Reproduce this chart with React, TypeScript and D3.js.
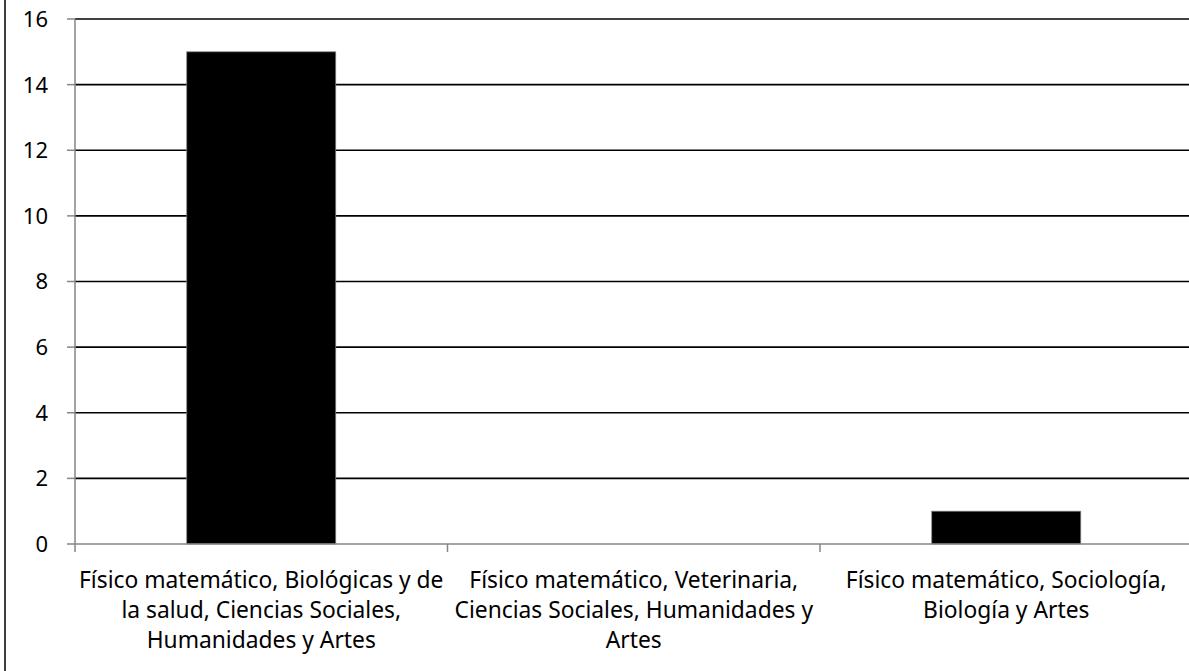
import * as d3 from 'd3';

const categories = [
  ['Físico matemático, Biológicas y de', 'la salud, Ciencias Sociales,', 'Humanidades y Artes'],
  ['Físico matemático, Veterinaria,', 'Ciencias Sociales, Humanidades y', 'Artes'],
  ['Físico matemático, Sociología,', 'Biología y Artes'],
];
const values = [15, 0, 1];
const yTicks = [0, 2, 4, 6, 8, 10, 12, 14, 16];

const W = 1189;
const H = 671;
const left = 75;
const right = 1192.5;
const top = 19;
const bottom = 544;
const font = '"Noto Sans", "Open Sans", sans-serif';

export default function App() {
  const keys = categories.map((_, i) => String(i));
  const x = d3.scaleBand().domain(keys).range([left, right]).paddingInner(0.6).paddingOuter(0.3);
  const band = d3.scaleBand().domain(keys).range([left, right]).padding(0);
  const y = d3.scaleLinear().domain([0, 16]).range([bottom, top]);

  return (
    <svg
      width={W}
      height={H}
      style={{ position: 'absolute', left: 0, top: 0, background: '#fff' }}
      fontFamily={font}
    >
      {/* chart border (only left side visible) */}
      <line x1={5} x2={5} y1={0} y2={H} stroke="#000" strokeWidth={1.5} />

      {/* gridlines */}
      {yTicks.filter((t) => t > 0).map((t) => (
        <line key={t} x1={left} x2={right} y1={y(t)} y2={y(t)} stroke="#000" strokeWidth={1.6} />
      ))}

      {/* bars */}
      {values.map((v, i) =>
        v > 0 ? (
          <rect
            key={i}
            x={x(String(i))!}
            y={y(v)}
            width={x.bandwidth()}
            height={y(0) - y(v)}
            fill="#000"
            stroke="#7f7f7f"
            strokeWidth={0.75}
          />
        ) : null,
      )}

      {/* y axis */}
      <line x1={left} x2={left} y1={top} y2={bottom} stroke="#868686" strokeWidth={1.5} />
      {yTicks.map((t) => (
        <g key={t}>
          <line x1={left - 8} x2={left} y1={y(t)} y2={y(t)} stroke="#868686" strokeWidth={1.5} />
          <text x={48} y={y(t)} dy="0.36em" textAnchor="end" fontSize={22} fill="#000">
            {t}
          </text>
        </g>
      ))}

      {/* x axis */}
      <line x1={left} x2={right} y1={bottom} y2={bottom} stroke="#868686" strokeWidth={1.5} />
      {[...keys.map((k) => band(k)!), right].map((px, i) => (
        <line key={i} x1={px} x2={px} y1={bottom} y2={bottom + 8} stroke="#868686" strokeWidth={1.5} />
      ))}
      {categories.map((lines, i) => (
        <text
          key={i}
          x={band(String(i))! + band.bandwidth() / 2}
          textAnchor="middle"
          fontSize={22.8}
          fill="#000"
        >
          {lines.map((ln, j) => (
            <tspan key={j} x={band(String(i))! + band.bandwidth() / 2} y={588 + j * 30}>
              {ln}
            </tspan>
          ))}
        </text>
      ))}
    </svg>
  );
}
